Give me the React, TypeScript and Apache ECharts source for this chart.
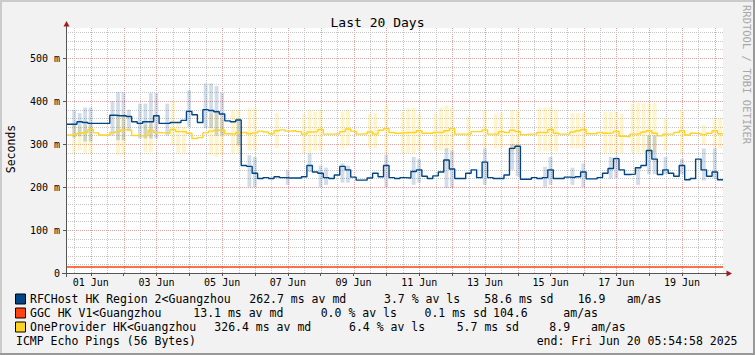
import React, { useEffect, useRef } from 'react';
import * as echarts from 'echarts';

// time axis: hours since 31 May 00:00; data starts 31 May 05:55, 4-hour bins
const START_H = 5 + 55 / 60;
const BIN_H = 4;
const SPAN_H = 480;

const blueMedian = [
  346, 346, 352, 350, 348, 348, 348, 348, 367, 366,
  366, 364, 352, 348, 352, 352, 366, 348, 348, 350,
  350, 355, 376, 368, 350, 380, 378, 375, 370, 354,
  352, 356, 250, 248, 232, 220, 222, 220, 224, 222,
  221, 221, 221, 224, 250, 235, 232, 222, 220, 228,
  248, 240, 223, 216, 216, 221, 232, 224, 250, 222,
  220, 222, 221, 236, 240, 225, 220, 226, 235, 263,
  242, 220, 220, 232, 240, 222, 258, 222, 220, 220,
  228, 290, 295, 218, 218, 222, 220, 222, 240, 220,
  220, 223, 222, 224, 235, 219, 219, 222, 232, 243,
  266, 240, 229, 230, 245, 250, 285, 265, 229, 240,
  232, 225, 250, 217, 220, 265, 240, 225, 235, 217,
];

const yellowMedian = [
  321, 322, 325, 327, 334, 326, 321, 321, 327, 329,
  333, 332, 320, 319, 320, 332, 327, 326, 325, 334,
  329, 329, 325, 313, 315, 326, 330, 332, 333, 324,
  323, 327, 327, 324, 326, 330, 328, 324, 331, 333,
  330, 331, 329, 323, 328, 329, 334, 323, 323, 324,
  329, 335, 330, 323, 324, 328, 323, 332, 336, 327,
  325, 326, 327, 327, 331, 325, 325, 327, 327, 331,
  336, 323, 323, 323, 329, 329, 333, 323, 323, 329,
  327, 332, 329, 322, 323, 323, 327, 327, 334, 325,
  323, 323, 328, 331, 334, 324, 324, 327, 325, 326,
  330, 318, 317, 323, 324, 328, 331, 325, 319, 323,
  323, 327, 331, 321, 325, 324, 322, 325, 331, 324,
];

// GGC: one value per day (flat ~14 ms)
const ggcDaily = [14, 14, 14, 14, 14, 14, 14, 14, 14, 14, 14, 14, 14, 14, 14, 14, 14, 14, 14, 14, 14];

// smoke: [bin, low, high] in ms
const blueSmoke = [
  [1, 315, 380], [2, 318, 372], [3, 306, 385], [4, 306, 385], [8, 320, 400], [9, 309, 421], [10, 309, 421],
  [11, 330, 380], [13, 313, 394], [14, 313, 394], [15, 313, 419], [16, 313, 419], [18, 320, 394],
  [22, 340, 425], [25, 337, 441], [26, 337, 441], [27, 320, 435], [28, 320, 420], [31, 297, 360],
  [33, 200, 274], [34, 200, 270], [40, 205, 240], [44, 235, 278], [46, 200, 250], [47, 205, 245],
  [50, 210, 255], [51, 210, 250], [58, 200, 275], [63, 205, 270], [64, 210, 265], [69, 198, 290],
  [70, 198, 285], [76, 205, 290], [81, 240, 300], [82, 225, 300], [87, 200, 247], [88, 205, 270],
  [92, 205, 245], [94, 200, 255], [99, 220, 270], [100, 220, 270], [104, 205, 245], [106, 230, 320],
  [107, 230, 320], [109, 230, 270], [112, 230, 265], [116, 215, 290], [118, 220, 290],
];

const yellowSmoke = [
  [1, 280, 345], [2, 285, 340], [3, 279, 345], [4, 279, 350], [9, 275, 370], [10, 275, 370], [14, 282, 345],
  [15, 282, 350], [19, 300, 400], [20, 279, 350], [21, 279, 340], [26, 275, 370], [27, 270, 372],
  [28, 275, 360], [30, 279, 380], [31, 279, 380], [33, 285, 385], [34, 285, 385], [38, 290, 372],
  [43, 279, 370], [44, 279, 380], [45, 285, 375], [46, 285, 380], [50, 290, 375], [51, 295, 380],
  [55, 290, 370], [56, 290, 372], [58, 279, 390], [61, 279, 375], [62, 279, 385], [63, 279, 385],
  [64, 285, 370], [67, 285, 370], [68, 285, 385], [69, 285, 390], [70, 285, 385], [73, 285, 365],
  [76, 290, 380], [78, 290, 370], [79, 290, 372], [81, 283, 380], [82, 283, 380], [86, 283, 385],
  [87, 283, 385], [88, 283, 385], [89, 283, 380], [92, 290, 372], [93, 290, 372], [94, 290, 372],
  [98, 279, 375], [99, 279, 375], [100, 279, 375], [101, 279, 370], [103, 280, 395], [104, 280, 395],
  [105, 280, 395], [106, 280, 395], [107, 280, 395], [109, 285, 360], [112, 279, 380], [116, 300, 345],
  [118, 290, 360], [119, 290, 360],
];

const xLabelHours = [24, 72, 120, 168, 216, 264, 312, 360, 408, 456];
const xLabels = ['01 Jun', '03 Jun', '05 Jun', '07 Jun', '09 Jun', '11 Jun', '13 Jun', '15 Jun', '17 Jun', '19 Jun'];
const yTicks = [0, 100, 200, 300, 400, 500];
const yLabels = ['0', '100 m', '200 m', '300 m', '400 m', '500 m'];

const seriesNames = ['RFCHost HK Region 2<Guangzhou', 'GGC HK V1<Guangzhou', 'OneProvider HK<Guangzhou'];
const seriesColors = ['#004586', '#ff420e', '#ffd320'];
const legendStats = [
  [[249.3, '262.7 ms av md'], [384, '3.7 % av ls'], [484.3, '58.6 ms sd'], [577.7, '16.9'], [626.7, 'am/as']],
  [[193.3, '13.1 ms av md'], [320.7, '0.0 % av ls'], [424.5, '0.1 ms sd'], [493, '104.6'], [563.3, 'am/as']],
  [[214.3, '326.4 ms av md'], [349, '6.4 % av ls'], [456.7, '5.7 ms sd'], [549.3, '8.9'], [591, 'am/as']],
];
const footerLeft = 'ICMP Echo Pings (56 Bytes)';
const footerRight = 'end: Fri Jun 20 05:54:58 2025';

const MONO = '"DejaVu Sans Mono", monospace';
const MAJOR = '#e6a0a0';
const MINOR = '#c6c6c6';

function txt(x: number, y: number, text: string, size: number, extra: any = {}) {
  return {
    type: 'text',
    x,
    y,
    silent: true,
    ...extra,
    style: {
      text,
      fill: extra.fill || '#000',
      fontFamily: MONO,
      fontSize: size,
      textAlign: extra.align || 'left',
      textVerticalAlign: 'middle',
      align: extra.align || 'left',
      verticalAlign: 'middle',
    },
  };
}

export default function App() {
  const ref = useRef<HTMLDivElement>(null);

  useEffect(() => {
    if (!ref.current) return;
    const chart = echarts.init(ref.current, null, { renderer: 'svg' });

    const toLine = (arr: number[]) => {
      const d = arr.map((v, i) => [START_H + BIN_H * i, v]);
      d.push([START_H + BIN_H * arr.length, arr[arr.length - 1]]);
      return d;
    };
    const ggcData = ggcDaily.map((v, i) => [START_H + 24 * i, v]);
    const smokeData = (arr: number[][]) =>
      arr.map(([i, lo, hi]) => [START_H + BIN_H * i, START_H + BIN_H * (i + 1), lo, hi]);

    const vGrid: number[][] = [];
    for (let h = 12; h <= START_H + SPAN_H; h += 12) if (h >= START_H) vGrid.push([h, h % 24 === 0 ? 1 : 0]);
    const hGrid: number[][] = [];
    for (let v = 20; v <= 560; v += 20) hGrid.push([START_H, v, v % 100 === 0 ? 1 : 0]);
    const dayTicks: number[] = [];
    for (let h = 24; h <= START_H + SPAN_H; h += 24) dayTicks.push(h);

    const smokeRender = (color: string) => (params: any, api: any) => {
      const a = api.coord([api.value(0), api.value(3)]);
      const b = api.coord([api.value(1), api.value(2)]);
      const w = b[0] - a[0];
      return {
        type: 'rect',
        shape: { x: a[0] + w * 0.15, y: a[1], width: w * 0.7, height: b[1] - a[1] },
        style: { fill: color },
        silent: true,
      };
    };

    const graphics: any[] = [
      // frame shading
      { type: 'rect', shape: { x: 0, y: 0, width: 755, height: 2 }, style: { fill: '#cbcbcb' }, silent: true },
      { type: 'rect', shape: { x: 0, y: 0, width: 2, height: 355 }, style: { fill: '#cbcbcb' }, silent: true },
      { type: 'rect', shape: { x: 0, y: 353, width: 755, height: 2 }, style: { fill: '#999999' }, silent: true },
      { type: 'rect', shape: { x: 753, y: 0, width: 2, height: 355 }, style: { fill: '#999999' }, silent: true },
      // axes
      { type: 'line', shape: { x1: 66.5, y1: 277, x2: 66.5, y2: 24 }, style: { stroke: '#555', lineWidth: 1 }, silent: true, z: 100 },
      { type: 'polygon', shape: { points: [[63.5, 26.5], [69.5, 26.5], [66.5, 21]] }, style: { fill: '#a01c1c' }, silent: true, z: 100 },
      { type: 'line', shape: { x1: 62, y1: 273.5, x2: 728, y2: 273.5 }, style: { stroke: '#555', lineWidth: 1 }, silent: true, z: 100 },
      { type: 'polygon', shape: { points: [[726.5, 270.5], [726.5, 276.5], [732, 273.5]] }, style: { fill: '#a01c1c' }, silent: true, z: 100 },
      // texts
      txt(747, 5, 'RRDTOOL / TOBI OETIKER', 10.5, { rotation: -Math.PI / 2, fill: '#a8a8a8' }),
      txt(11, 149, 'Seconds', 11.5, { rotation: Math.PI / 2, align: 'center' }),
      txt(16, 341, footerLeft, 11.5),
      txt(536.7, 341, footerRight, 11.5),
    ];
    seriesNames.forEach((name, r) => {
      const y = 299 + 14 * r;
      graphics.push({
        type: 'rect',
        shape: { x: 15.5, y: y - 5, width: 10, height: 10 },
        style: { fill: seriesColors[r], stroke: '#000', lineWidth: 1 },
        silent: true,
      });
      graphics.push(txt(30, y, name, 11.5));
      legendStats[r].forEach(([x, t]) => graphics.push(txt(x as number, y, t as string, 11.5)));
    });

    chart.setOption({
      animation: false,
      backgroundColor: '#f2f2f2',
      title: {
        text: 'Last 20 Days',
        left: 'center',
        top: 11,
        textStyle: { fontFamily: MONO, fontSize: 13, fontWeight: 'normal', color: '#000' },
      },
      grid: {
        left: 66, right: 32, top: 28, bottom: 82,
        show: true, backgroundColor: '#ffffff', borderWidth: 0,
        outerBoundsMode: 'none',
      },
      xAxis: {
        type: 'value',
        min: START_H,
        max: START_H + SPAN_H,
        axisLine: { show: false },
        splitLine: { show: false },
        axisTick: { show: true, customValues: dayTicks, length: 3, lineStyle: { color: '#555' } },
        axisLabel: {
          customValues: xLabelHours,
          formatter: (v: number) => xLabels[xLabelHours.indexOf(Math.round(v))] ?? '',
          fontFamily: MONO, fontSize: 10, color: '#000', margin: 4,
        },
      },
      yAxis: {
        type: 'value',
        min: 0,
        max: 570,
        axisLine: { show: false },
        splitLine: { show: false },
        axisTick: { show: true, customValues: yTicks, length: 3, lineStyle: { color: '#555' } },
        axisLabel: {
          customValues: yTicks,
          formatter: (v: number) => yLabels[yTicks.indexOf(Math.round(v))] ?? '',
          fontFamily: MONO, fontSize: 10, color: '#000', margin: 6,
        },
      },
      graphic: graphics,
      series: [
        {
          type: 'custom', z: 0, silent: true, data: vGrid, encode: { x: 0, y: 1 },
          renderItem: (params: any, api: any) => {
            const cs = params.coordSys;
            const p = api.coord([api.value(0), 0]);
            const x = Math.round(p[0]) + 0.5;
            return {
              type: 'line',
              shape: { x1: x, y1: cs.y, x2: x, y2: cs.y + cs.height },
              style: { stroke: api.value(1) ? MAJOR : MINOR, lineWidth: 1, lineDash: [1, 1] },
              silent: true,
            };
          },
        },
        {
          type: 'custom', z: 0, silent: true, data: hGrid, encode: { x: 0, y: 1 },
          renderItem: (params: any, api: any) => {
            const cs = params.coordSys;
            const p = api.coord([START_H, api.value(1)]);
            const y = Math.round(p[1]) + 0.5;
            return {
              type: 'line',
              shape: { x1: cs.x, y1: y, x2: cs.x + cs.width, y2: y },
              style: { stroke: api.value(2) ? MAJOR : MINOR, lineWidth: 1, lineDash: [1, 1] },
              silent: true,
            };
          },
        },
        {
          type: 'custom', z: 1, silent: true, data: smokeData(yellowSmoke), encode: { x: [0, 1], y: [2, 3] },
          renderItem: smokeRender('rgba(255,211,32,0.24)'),
        },
        {
          type: 'custom', z: 1, silent: true, data: smokeData(blueSmoke), encode: { x: [0, 1], y: [2, 3] },
          renderItem: smokeRender('rgba(0,69,134,0.18)'),
        },
        {
          name: seriesNames[1], type: 'line', z: 3, data: ggcData, showSymbol: false, step: 'end',
          lineStyle: { color: seriesColors[1], width: 1.3 },
        },
        {
          name: seriesNames[2], type: 'line', z: 3, data: toLine(yellowMedian), showSymbol: false, step: 'end',
          lineStyle: { color: seriesColors[2], width: 1.4 },
        },
        {
          name: seriesNames[0], type: 'line', z: 4, data: toLine(blueMedian), showSymbol: false, step: 'end',
          lineStyle: { color: seriesColors[0], width: 1.4 },
        },
      ],
    });

    return () => chart.dispose();
  }, []);

  return <div ref={ref} style={{ position: 'fixed', left: 0, top: 0, width: 755, height: 355 }} />;
}
